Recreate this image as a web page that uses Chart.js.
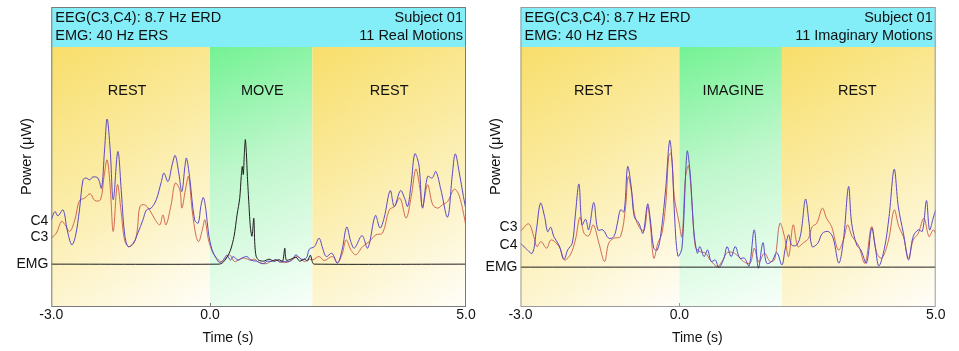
<!DOCTYPE html>
<html><head><meta charset="utf-8">
<script src="https://cdn.jsdelivr.net/npm/chart.js@4/dist/chart.umd.min.js"></script>
<style>
html,body{margin:0;padding:0;background:#fff;width:959px;height:351px;overflow:hidden}
#wrap{position:relative;width:959px;height:351px}
.pane{position:absolute;top:0;height:351px}
#p1{left:0;width:480px}
#p2{left:480px;width:479px}
</style></head><body>
<div id="wrap">
<div class="pane" id="p1"><canvas id="c1" width="480" height="351"></canvas></div>
<div class="pane" id="p2"><canvas id="c2" width="479" height="351"></canvas></div>
</div>
<script>
// ---------- shared axis data ----------
const timeRange = [-3.1, 5];
const xTickValues = [-3.1, 0, 5];
const xTickLabels = ['-3.0', '0.0', '5.0'];
const periodBounds = [-3.1, 0, 2, 5];

// ---------- left panel (real motions) ----------
const realHeader = ['EEG(C3,C4): 8.7 Hz ERD', 'EMG: 40 Hz ERS', 'Subject 01', '11 Real Motions'];
const realPeriods = ['REST', 'MOVE', 'REST'];
const realLabelAt = [-1.62, 1.02, 3.5];
const realYTickValues = [21.7, 13.3, 0];
const realYTickLabels = ['C4', 'C3', 'EMG'];
const realC4 = [[-3.10,22.2],[-3.03,26.4],[-2.97,24.2],[-2.87,27.2],[-2.79,17.2],[-2.70,9.7],[-2.63,13.8],[-2.55,27.2],[-2.48,42.3],[-2.42,43.2],[-2.35,42.3],[-2.29,43.7],[-2.19,43.2],[-2.12,38.1],[-2.06,57.3],[-2.01,72.8],[-1.95,57.3],[-1.89,32.3],[-1.80,56.5],[-1.73,35.6],[-1.67,15.6],[-1.60,8.8],[-1.50,10.5],[-1.41,15.6],[-1.31,22.2],[-1.24,27.2],[-1.15,28.1],[-1.05,32.3],[-0.95,41.4],[-0.90,45.7],[-0.82,41.4],[-0.74,49.8],[-0.68,54.5],[-0.61,45.7],[-0.55,36.4],[-0.49,49.0],[-0.46,53.2],[-0.40,44.0],[-0.30,22.2],[-0.23,20.6],[-0.18,28.9],[-0.13,33.4],[-0.08,27.2],[-0.03,15.6],[0.04,7.2],[0.12,3.0],[0.19,0.8],[0.27,2.5],[0.33,4.5],[0.40,2.0],[0.45,3.8],[0.55,2.0],[0.62,3.0],[0.72,3.8],[0.80,2.0],[0.91,1.5],[1.03,0.2],[1.12,1.5],[1.19,1.3],[1.29,2.2],[1.36,1.0],[1.42,1.3],[1.55,1.3],[1.62,2.8],[1.68,4.7],[1.78,2.5],[1.88,3.0],[1.94,7.5],[2.04,8.8],[2.13,13.0],[2.20,8.0],[2.27,3.8],[2.38,5.5],[2.49,0.5],[2.58,7.2],[2.67,18.6],[2.75,11.3],[2.82,8.0],[2.97,14.3],[3.08,8.0],[3.23,24.4],[3.32,18.1],[3.40,23.1],[3.52,36.9],[3.60,28.9],[3.72,36.9],[3.80,33.1],[3.86,28.9],[3.93,40.6],[4.00,55.3],[4.08,49.8],[4.15,28.1],[4.25,44.0],[4.34,43.2],[4.41,46.5],[4.51,37.3],[4.64,23.6],[4.73,44.0],[4.79,55.3],[4.87,45.7],[4.95,33.9],[5.00,27.2]];
const realC3 = [[-3.10,13.0],[-3.00,15.6],[-2.90,21.5],[-2.83,19.7],[-2.74,16.4],[-2.64,22.2],[-2.55,31.9],[-2.45,33.1],[-2.34,35.3],[-2.25,31.9],[-2.14,32.3],[-2.07,44.0],[-2.01,52.3],[-1.95,38.9],[-1.89,16.4],[-1.81,39.8],[-1.74,27.2],[-1.67,12.2],[-1.59,8.8],[-1.48,10.8],[-1.42,17.2],[-1.37,28.9],[-1.28,29.8],[-1.18,27.2],[-1.07,22.2],[-0.98,19.7],[-0.92,24.7],[-0.86,19.7],[-0.76,29.8],[-0.68,40.6],[-0.59,37.3],[-0.55,28.1],[-0.48,37.3],[-0.42,44.0],[-0.35,27.2],[-0.27,13.8],[-0.22,11.3],[-0.15,17.2],[-0.10,22.2],[-0.03,12.2],[0.06,5.5],[0.16,2.2],[0.25,1.3],[0.38,4.7],[0.48,1.3],[0.58,2.5],[0.68,3.0],[0.78,2.0],[0.87,2.5],[0.95,1.0],[1.09,0.2],[1.20,1.5],[1.29,2.2],[1.38,1.2],[1.48,0.8],[1.60,2.0],[1.71,3.8],[1.84,1.3],[1.93,2.5],[2.01,2.2],[2.13,3.8],[2.23,1.8],[2.39,3.8],[2.49,0.8],[2.58,5.0],[2.66,12.2],[2.75,7.2],[2.85,4.7],[2.98,8.8],[3.11,11.3],[3.24,14.7],[3.37,15.6],[3.50,27.2],[3.60,28.9],[3.71,33.1],[3.83,23.1],[3.93,33.9],[4.02,47.7],[4.10,38.1],[4.15,28.9],[4.25,39.8],[4.35,29.8],[4.45,28.1],[4.54,29.8],[4.64,31.4],[4.77,37.6],[4.86,34.8],[4.95,25.6],[5.00,18.9]];
const realEMG = [[-3.1,0],[0.18,0],[0.25,0.8],[0.32,3],[0.40,7],[0.47,14],[0.53,25],[0.58,33],[0.61,44],[0.63,49],[0.65,45],[0.67,55],[0.69,62.5],[0.71,56],[0.73,44],[0.76,30],[0.79,18],[0.82,14],[0.855,23],[0.875,10],[0.90,4],[0.95,2],[1.05,1.5],[1.15,2.5],[1.25,1.5],[1.35,2.2],[1.42,1.5],[1.46,8],[1.49,2],[1.58,2.5],[1.68,3.5],[1.75,1.5],[1.85,2.5],[1.90,1.5],[1.96,4.5],[2.00,1],[2.03,0],[5,0]];

// ---------- right panel (imaginary motions) ----------
const imagHeader = ['EEG(C3,C4): 8.7 Hz ERD', 'EMG: 40 Hz ERS', 'Subject 01', '11 Imaginary Motions'];
const imagPeriods = ['REST', 'IMAGINE', 'REST'];
const imagLabelAt = [-1.68, 1.05, 3.47];
const imagYTickValues = [20.2, 10.8, 0];
const imagYTickLabels = ['C3', 'C4', 'EMG'];
const imagC4 = [[-3.10,12.0],[-3.00,9.5],[-2.87,7.0],[-2.79,18.7],[-2.71,32.1],[-2.63,25.3],[-2.57,17.8],[-2.51,20.0],[-2.45,15.3],[-2.35,11.1],[-2.25,4.0],[-2.18,8.6],[-2.09,12.0],[-2.03,26.2],[-1.96,41.7],[-1.90,21.2],[-1.83,24.0],[-1.77,18.7],[-1.67,32.4],[-1.59,18.7],[-1.49,18.7],[-1.38,14.5],[-1.28,15.3],[-1.21,22.0],[-1.15,28.7],[-1.08,27.8],[-1.01,50.4],[-0.94,40.4],[-0.88,25.3],[-0.79,22.0],[-0.71,17.0],[-0.62,31.7],[-0.57,24.5],[-0.50,9.5],[-0.43,8.6],[-0.36,17.0],[-0.27,38.7],[-0.19,63.5],[-0.14,52.1],[-0.10,28.7],[-0.03,5.6],[0.05,9.5],[0.15,58.0],[0.21,47.1],[0.28,18.7],[0.35,7.0],[0.40,10.3],[0.48,5.3],[0.55,8.6],[0.62,2.8],[0.70,3.6],[0.77,-0.2],[0.87,4.5],[0.93,10.3],[1.01,5.3],[1.09,10.3],[1.18,4.5],[1.27,4.5],[1.36,0.6],[1.46,18.7],[1.54,-0.5],[1.63,12.3],[1.70,2.0],[1.80,2.8],[1.90,7.3],[2.00,1.1],[2.06,8.6],[2.13,16.2],[2.19,11.1],[2.29,11.1],[2.37,17.0],[2.46,34.1],[2.53,22.0],[2.59,10.3],[2.70,12.0],[2.79,17.0],[2.91,17.8],[3.00,14.5],[3.11,2.0],[3.20,13.6],[3.30,40.4],[3.36,22.0],[3.46,11.1],[3.54,8.6],[3.65,2.0],[3.75,19.5],[3.82,10.3],[3.89,0.6],[4.00,9.5],[4.09,25.3],[4.19,49.1],[4.27,30.4],[4.37,17.0],[4.47,3.6],[4.56,15.3],[4.66,18.7],[4.74,18.0],[4.82,33.4],[4.88,18.7],[4.95,24.5],[5.00,28.7]];
const imagC3 = [[-3.10,18.0],[-2.94,21.7],[-2.84,15.3],[-2.78,10.3],[-2.70,12.8],[-2.59,9.5],[-2.51,13.6],[-2.42,12.5],[-2.33,9.5],[-2.25,3.6],[-2.13,6.1],[-2.03,13.6],[-1.94,25.0],[-1.86,17.0],[-1.77,15.7],[-1.68,21.2],[-1.57,12.0],[-1.46,2.8],[-1.38,12.0],[-1.28,14.5],[-1.15,15.3],[-1.05,30.4],[-1.00,45.4],[-0.92,35.4],[-0.88,27.0],[-0.79,20.3],[-0.69,18.3],[-0.62,30.4],[-0.57,22.0],[-0.50,4.5],[-0.42,12.0],[-0.34,17.0],[-0.26,33.7],[-0.21,55.4],[-0.16,57.1],[-0.10,35.4],[-0.01,22.8],[0.05,15.3],[0.12,45.4],[0.18,50.8],[0.25,30.4],[0.31,10.3],[0.40,7.8],[0.51,7.0],[0.60,3.6],[0.74,0.3],[0.83,2.8],[0.92,7.0],[1.02,7.5],[1.12,6.1],[1.25,2.8],[1.38,2.0],[1.46,9.5],[1.55,2.5],[1.66,7.0],[1.77,2.8],[1.86,4.0],[1.96,22.0],[2.05,15.3],[2.13,5.3],[2.22,21.2],[2.31,10.3],[2.41,12.0],[2.52,14.5],[2.59,20.3],[2.68,22.0],[2.79,29.6],[2.87,24.5],[2.97,20.3],[3.10,8.6],[3.20,13.6],[3.28,21.2],[3.37,15.3],[3.49,11.1],[3.62,2.0],[3.75,20.3],[3.85,7.0],[3.95,4.5],[4.08,13.6],[4.19,28.7],[4.28,20.3],[4.37,15.3],[4.47,4.5],[4.56,13.6],[4.66,17.0],[4.77,24.5],[4.87,15.3],[4.95,18.7],[5.00,17.0]];
const imagEMG = [[-3.1,0],[5,0]];

// ---------- styling ----------
const FONT = "'Liberation Sans', Arial, Helvetica, sans-serif";
Chart.defaults.font.family = FONT;
Chart.defaults.font.size = 14;
Chart.defaults.color = '#111';

const panelPlugin = {
  id: 'panel',
  beforeDraw(chart, args, o) {
    const {ctx, chartArea: a, scales: {x}} = chart;
    ctx.save();
    const y0 = a.top + o.headerH, y1 = a.bottom;
    for (let i = 0; i < o.periods.length; i++) {
      const x0 = x.getPixelForValue(periodBounds[i]);
      const x1 = x.getPixelForValue(periodBounds[i + 1]);
      const g = ctx.createLinearGradient(x0, y0, x1, y1);
      const st = i === 1 ? ['#74f294', '#bff7cc', '#f8fffa'] : ['#f8de6a', '#fbeca6', '#fffef9'];
      g.addColorStop(0, st[0]); g.addColorStop(0.45, st[1]); g.addColorStop(1, st[2]);
      ctx.fillStyle = g;
      ctx.fillRect(x0, y0, x1 - x0, y1 - y0);
    }
    ctx.fillStyle = '#83eef8';
    ctx.fillRect(a.left, a.top, a.right - a.left, o.headerH);
    ctx.restore();
  },
  afterDatasetsDraw(chart, args, o) {
    const {ctx, chartArea: a, scales: {x}} = chart;
    ctx.save();
    ctx.strokeStyle = o.frameColor; ctx.lineWidth = 1;
    ctx.strokeRect(a.left + 0.5, a.top + 0.5, a.right - a.left - 1, a.bottom - a.top);
    const x0 = Math.round(x.getPixelForValue(0)) + 0.5;
    ctx.beginPath(); ctx.moveTo(x0, a.bottom - 3); ctx.lineTo(x0, a.bottom + 1); ctx.stroke();
    ctx.fillStyle = '#111';
    ctx.font = '14.5px ' + FONT;
    ctx.textBaseline = 'alphabetic';
    ctx.textAlign = 'left';
    ctx.fillText(o.header[0], a.left + 4, a.top + 15);
    ctx.fillText(o.header[1], a.left + 4, a.top + 33);
    ctx.textAlign = 'right';
    ctx.fillText(o.header[2], a.right - 3, a.top + 15);
    ctx.fillText(o.header[3], a.right - 3, a.top + 33);
    ctx.textAlign = 'center';
    ctx.textBaseline = 'middle';
    o.periods.forEach((p, i) => ctx.fillText(p, x.getPixelForValue(o.labelAt[i]), a.top + 84));
    ctx.font = '14px ' + FONT;
    ctx.fillText('Time (s)', x.getPixelForValue(0.35), 338);
    ctx.translate(a.left - 24.5, (a.top + a.bottom) / 2);
    ctx.rotate(-Math.PI / 2);
    ctx.font = '14.5px ' + FONT;
    ctx.fillText('Power (\u03bcW)', 0, 0);
    ctx.restore();
  }
};

function pts(arr) { return arr.map(p => ({x: p[0], y: p[1]})); }

function makePanel(id, cfg) {
  return new Chart(document.getElementById(id), {
    type: 'line',
    data: {
      datasets: [
        {label: 'EMG', data: pts(cfg.emg), borderColor: '#1e1e1e', borderWidth: 1, pointRadius: 0, tension: 0.25, fill: false},
        {label: cfg.purpleName, data: pts(cfg.purple), borderColor: '#5b48c6', borderWidth: 1, pointRadius: 0, tension: 0.35, fill: false},
        {label: cfg.redName, data: pts(cfg.red), borderColor: '#cc5a45', borderWidth: 0.9, pointRadius: 0, tension: 0.35, fill: false}
      ]
    },
    options: {
      responsive: false,
      animation: false,
      events: [],
      layout: {padding: {top: 7, left: 0, right: cfg.padRight, bottom: 0}},
      plugins: {
        legend: {display: false},
        tooltip: {enabled: false},
        panel: {header: cfg.header, periods: cfg.periods, labelAt: cfg.labelAt, headerH: 40, frameColor: cfg.frame}
      },
      scales: {
        x: {
          type: 'linear', min: timeRange[0], max: timeRange[1],
          grid: {display: false, drawTicks: false}, border: {display: false},
          ticks: {autoSkip: false, maxRotation: 0, padding: 1, font: {size: 14},
            callback: (v, i) => xTickLabels[i]},
          afterBuildTicks: s => { s.ticks = xTickValues.map(v => ({value: v})); },
          afterFit: s => { s.height = 45; s.paddingLeft = 0; s.paddingRight = 0; }
        },
        y: {
          type: 'linear', min: cfg.yMin, max: cfg.yMax,
          grid: {display: false, drawTicks: false}, border: {display: false},
          ticks: {autoSkip: false, padding: 3, font: {size: 14},
            callback: (v, i) => cfg.yLabels[i]},
          afterBuildTicks: s => { s.ticks = cfg.yTicks.map(v => ({value: v})); },
          afterFit: s => { s.width = cfg.yWidth; s.paddingTop = 0; s.paddingBottom = 0; }
        }
      }
    },
    plugins: [panelPlugin]
  });
}

makePanel('c1', {
  emg: realEMG, purple: realC4, red: realC3, purpleName: 'C4', redName: 'C3',
  header: realHeader, periods: realPeriods, labelAt: realLabelAt,
  yTicks: realYTickValues, yLabels: realYTickLabels,
  yMin: -21, yMax: 129, yWidth: 51.3, padRight: 14, frame: '#7a7a7a'
});
makePanel('c2', {
  emg: imagEMG, purple: imagC4, red: imagC3, purpleName: 'C4', redName: 'C3',
  header: imagHeader, periods: imagPeriods, labelAt: imagLabelAt,
  yTicks: imagYTickValues, yLabels: imagYTickLabels,
  yMin: -19.5, yMax: 130.5, yWidth: 40.5, padRight: 23.3, frame: '#9a9a9a'
});
</script>
</body></html>
